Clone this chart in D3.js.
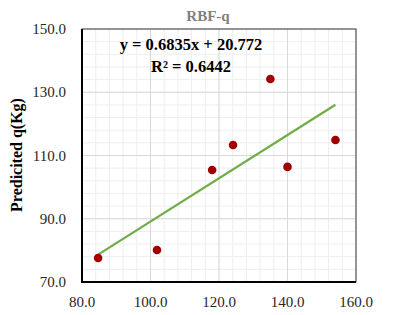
<!DOCTYPE html>
<html>
<head>
<meta charset="utf-8">
<script src="https://cdn.jsdelivr.net/npm/d3@7.9.0/dist/d3.min.js"></script>
<style>
  body { margin: 0; background: #fff; }
  text { font-family: "Liberation Serif", "DejaVu Serif", serif; }
</style>
</head>
<body>
<svg id="chart" width="396" height="315"></svg>
<script>
// measured values
const actualQ = [84.7, 101.9, 118.0, 124.1, 135.0, 140.0, 154.0];
const predictedQ = [77.6, 80.1, 105.4, 113.3, 134.2, 106.4, 114.9];
const xTicks = [80, 100, 120, 140, 160];
const yTicks = [70, 90, 110, 130, 150];
const slope = 0.6835, intercept = 20.772;

const svg = d3.select('#chart');
const plotL = 82, plotR = 356, plotT = 29, plotB = 282;

const x = d3.scaleLinear().domain([80, 160]).range([plotL, plotR]);
const y = d3.scaleLinear().domain([70, 150]).range([plotB, plotT]);

// minor grid every 4
const minorX = d3.range(80, 160.1, 4);
const minorY = d3.range(70, 150.1, 4);
svg.append('g').selectAll('line').data(minorX).join('line')
  .attr('x1', d => x(d)).attr('x2', d => x(d)).attr('y1', plotT).attr('y2', plotB)
  .attr('stroke', '#eeeeee').attr('stroke-width', 1);
svg.append('g').selectAll('line').data(minorY).join('line')
  .attr('y1', d => y(d)).attr('y2', d => y(d)).attr('x1', plotL).attr('x2', plotR)
  .attr('stroke', '#eeeeee').attr('stroke-width', 1);

// major grid
svg.append('g').selectAll('line').data(xTicks).join('line')
  .attr('x1', d => x(d)).attr('x2', d => x(d)).attr('y1', plotT).attr('y2', plotB)
  .attr('stroke', '#d9d9d9').attr('stroke-width', 1);
svg.append('g').selectAll('line').data(yTicks).join('line')
  .attr('y1', d => y(d)).attr('y2', d => y(d)).attr('x1', plotL).attr('x2', plotR)
  .attr('stroke', '#d9d9d9').attr('stroke-width', 1);

// border
svg.append('rect').attr('x', plotL).attr('y', plotT)
  .attr('width', plotR - plotL).attr('height', plotB - plotT)
  .attr('fill', 'none').attr('stroke', '#404040').attr('stroke-width', 1);
svg.append('line').attr('x1', plotL).attr('x2', plotL).attr('y1', plotT).attr('y2', plotB + 1)
  .attr('stroke', '#000').attr('stroke-width', 2);
svg.append('line').attr('x1', plotL - 1).attr('x2', plotR).attr('y1', plotB).attr('y2', plotB)
  .attr('stroke', '#000').attr('stroke-width', 2);

// tick labels
svg.append('g').selectAll('text').data(yTicks).join('text')
  .attr('x', 66).attr('y', d => y(d) + 5)
  .attr('text-anchor', 'end').attr('font-size', 15).attr('fill', '#262626')
  .text(d => d.toFixed(1));
svg.append('g').selectAll('text').data(xTicks).join('text')
  .attr('x', d => x(d)).attr('y', 307)
  .attr('text-anchor', 'middle').attr('font-size', 15).attr('fill', '#262626')
  .text(d => d.toFixed(1));

// trendline
const xr = d3.extent(actualQ);
svg.append('line')
  .attr('x1', x(xr[0])).attr('y1', y(slope * xr[0] + intercept))
  .attr('x2', x(xr[1])).attr('y2', y(slope * xr[1] + intercept))
  .attr('stroke', '#70ad47').attr('stroke-width', 2.25);

// points
svg.append('g').selectAll('circle').data(actualQ).join('circle')
  .attr('cx', d => x(d)).attr('cy', (d, i) => y(predictedQ[i]))
  .attr('r', 4.3).attr('fill', '#a00000');

// title
svg.append('text').attr('x', 208).attr('y', 21)
  .attr('text-anchor', 'middle').attr('font-size', 15).attr('font-weight', 'bold')
  .attr('fill', '#7f7f7f').text('RBF-q');

// equation
svg.append('text').attr('x', 191).attr('y', 50)
  .attr('text-anchor', 'middle').attr('font-size', 16.5).attr('font-weight', 'bold')
  .attr('fill', '#000').text('y = 0.6835x + 20.772');
svg.append('text').attr('x', 191).attr('y', 72)
  .attr('text-anchor', 'middle').attr('font-size', 16.5).attr('font-weight', 'bold')
  .attr('fill', '#000').text('R² = 0.6442');

// y axis title
svg.append('text').attr('transform', 'translate(22,155) rotate(-90)')
  .attr('text-anchor', 'middle').attr('font-size', 16).attr('font-weight', 'bold')
  .attr('fill', '#000').text('Predicited q(Kg)');
</script>
</body>
</html>
